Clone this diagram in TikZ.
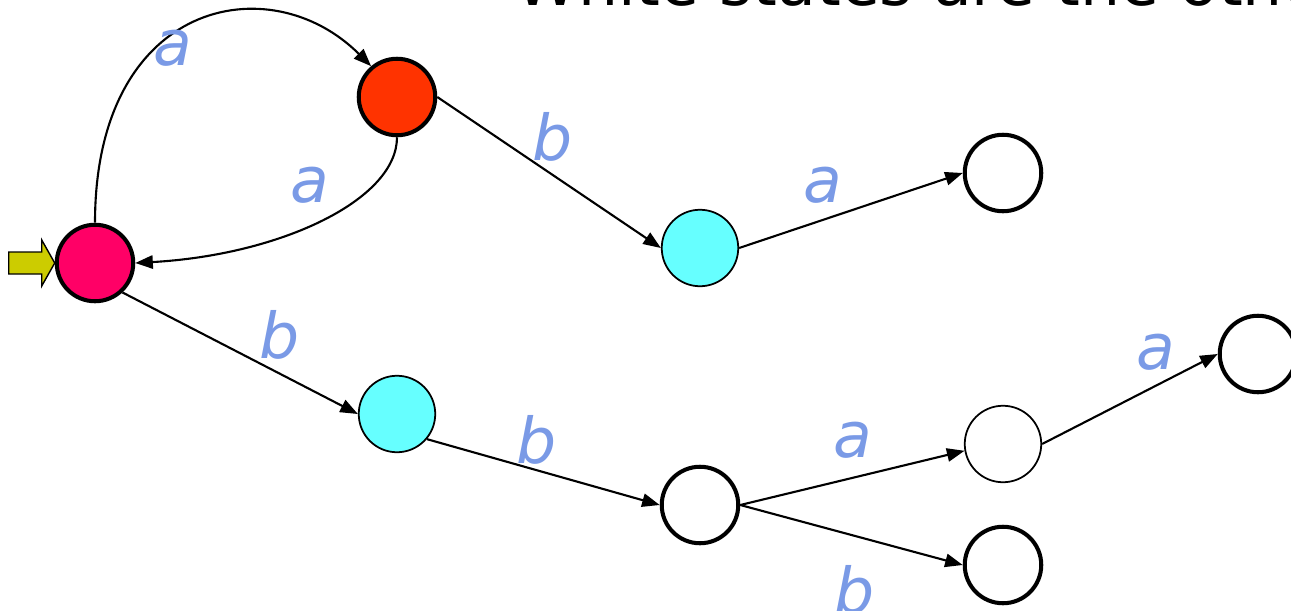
\documentclass[tikz,border=0pt]{standalone}
\usepackage{fontspec}
\setmainfont{DejaVu Sans}
\usetikzlibrary{arrows.meta,calc}
\definecolor{rose}{RGB}{255,0,102}
\definecolor{flame}{RGB}{255,51,0}
\definecolor{ice}{RGB}{102,255,255}
\definecolor{olivey}{RGB}{204,204,0}
\definecolor{sky}{RGB}{122,154,230}
\tikzset{
  state/.style={circle,draw,minimum size=7.65mm,inner sep=0pt,line width=1.15pt},
  lightstate/.style={state,line width=0.5pt},
  edge/.style={line width=0.6pt,-{Triangle[length=5pt,width=3.8pt]}},
  lbl/.style={text=sky,font=\fontsize{18}{20}\selectfont\itshape,inner sep=0pt}
}

\begin{document}
\begin{tikzpicture}[x=0.1mm,y=0.1mm]
  \useasboundingbox (0,0) rectangle (1291,-611);
  \clip (0,0) rectangle (1291,-611);
  \node[anchor=base west,inner sep=0pt,font=\fontsize{18}{20}\selectfont] (title) at (515,-5) {White states are the othe};

  % states
  \foreach \n/\x/\y/\c/\s in {q0/95/263/rose/state, q1/397/97/flame/state,
    q2/700/248/ice/lightstate, q3/1003/173/white/state,
    q4/397/414/ice/lightstate, q5/700/505/white/state,
    q6/1003/444/white/lightstate, q7/1003/565/white/state,
    q8/1258/354/white/state}
  {
    \node[\s,fill=\c] (\n) at (\x,-\y) {};
  }

  % start arrow
  \filldraw[fill=olivey,draw=black,line width=0.4pt] (q0.west) -- ++(-13,23) -- ++(0,-12) -- ++(-33,0)
    -- ++(0,-22) -- ++(33,0) -- ++(0,-12) -- cycle;

  % transitions
  \draw[edge] (q0.north) .. controls (95,0) and (270,35) .. (q1.130);
  \draw[edge] (q1.south) .. controls (397,-200) and (280,-255) .. (q0.east);
  \foreach \f/\t/\l/\x/\y in {q1.east/q2.west/b/553/137, q2.east/q3.west/a/823/185,
    q0.-47/q4.west/b/280/335, q4.-40/q5.west/b/537/440,
    q5.east/q6.190/a/853/440, q5.east/q7.west/b/855/590, q6.east/q8.west/a/1156/352}
  {
    \draw[edge] (\f) -- (\t);
    \node[lbl] at (\x,-\y) {\l};
  }
  \node[lbl] (la) at (173,-48) {a};
  \node[lbl] (lb) at (310,-185) {a};
\end{tikzpicture}
\end{document}
